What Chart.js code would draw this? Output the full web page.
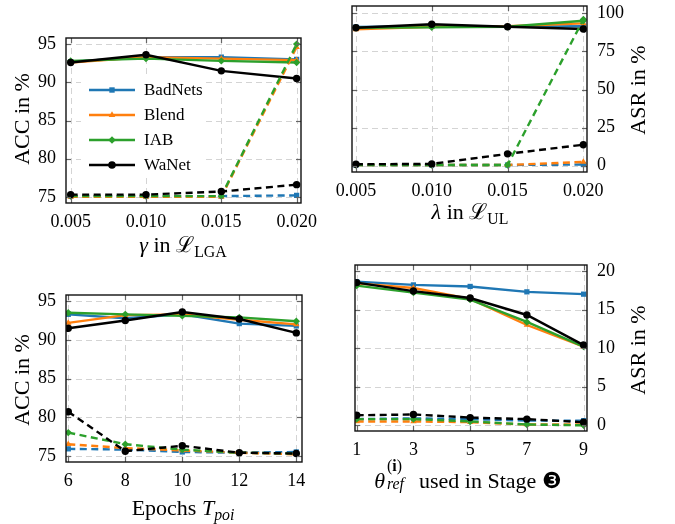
<!DOCTYPE html>
<html>
<head>
<meta charset="utf-8">
<script src="https://cdn.jsdelivr.net/npm/chart.js@4.4.1/dist/chart.umd.min.js"></script>
<style>
body { margin: 0; background: #fff; width: 675px; height: 524px; position: relative; overflow: hidden; font-family: "Liberation Serif", "DejaVu Serif", serif; }
canvas { position: absolute; }
.lbl { position: absolute; font-size: 22px; color: #000; white-space: nowrap; transform: translate(-50%, -50%); line-height: 1; }
.rot { transform: translate(-50%, -50%) rotate(-90deg); }
sub { font-size: 0.72em; vertical-align: -0.3em; }
</style>
</head>
<body>
<canvas id="c1" width="345" height="262" style="left:0;top:0"></canvas>
<canvas id="c2" width="370" height="282" style="left:305px;top:-20px"></canvas>
<canvas id="c3" width="345" height="262" style="left:0;top:262px"></canvas>
<canvas id="c4" width="370" height="282" style="left:305px;top:242px"></canvas>

<div class="lbl" style="left:183px;top:247px"><i>γ</i> in ℒ<sub>LGA</sub></div>
<div class="lbl rot" style="left:22px;top:119px">ACC in %</div>
<div class="lbl" style="left:470px;top:214px"><i>λ</i> in ℒ<sub>UL</sub></div>
<div class="lbl rot" style="left:638px;top:90px">ASR in %</div>
<div class="lbl" style="left:183px;top:510px">Epochs <i>T<sub>poi</sub></i></div>
<div class="lbl rot" style="left:22px;top:380px">ACC in %</div>
<div class="lbl" style="left:468px;top:479px"><i>θ</i><span style="position:relative;display:inline-block;width:1.3em;height:1em"><span style="position:absolute;left:2px;top:-0.5em;font-size:0.72em">(<b>i</b>)</span><span style="position:absolute;left:2px;top:0.6em;font-size:0.72em;font-style:italic">ref</span></span> used in Stage ❸</div>
<div class="lbl rot" style="left:638px;top:350px">ASR in %</div>

<script>
const seriesNames = ['BadNets', 'Blend', 'IAB', 'WaNet'];
const seriesColors = ['#1f77b4', '#ff7f0e', '#2ca02c', '#000000'];
const seriesMarkers = ['rect', 'triangle', 'rectRot', 'circle'];

// top left: gamma in L_LGA
const gammaValues = [0.005, 0.010, 0.015, 0.020];
const gammaAcc = [
    [92.7, 93.3, 93.3, 93.0],
    [92.6, 93.3, 93.1, 92.9],
    [92.8, 93.1, 92.8, 92.6],
    [92.6, 93.6, 91.5, 90.5]
];
const gammaAsr = [
    [75.1, 75.1, 75.1, 75.2],
    [75.0, 75.0, 75.0, 94.6],
    [75.1, 75.1, 75.1, 95.0],
    [75.3, 75.3, 75.7, 76.6]
];

// top right: lambda in L_UL
const lambdaValues = [0.005, 0.010, 0.015, 0.020];
const lambdaAcc = [
    [91.0, 91.5, 91.2, 91.5],
    [89.5, 91.2, 91.5, 93.4],
    [90.5, 90.8, 91.2, 95.1],
    [90.5, 92.8, 91.2, 89.7]
];
const lambdaAsr = [
    [0.5, 0.5, 0.5, 0.8],
    [0.5, 0.5, 0.5, 2.5],
    [0.5, 0.5, 0.5, 96.0],
    [1.0, 1.2, 7.8, 13.8]
];

// bottom left: epochs T_poi
const epochValues = [6, 8, 10, 12, 14];
const epochAcc = [
    [93.3, 92.8, 93.3, 92.1, 91.8],
    [92.2, 93.2, 93.3, 92.6, 92.0],
    [93.5, 93.3, 93.1, 92.9, 92.4],
    [91.5, 92.5, 93.6, 92.7, 90.9]
];
const epochAsr = [
    [75.9, 75.8, 75.5, 75.4, 75.5],
    [76.5, 76.0, 75.7, 75.4, 75.2],
    [78.0, 76.5, 75.8, 75.4, 75.3],
    [80.7, 75.6, 76.3, 75.4, 75.3]
];

// bottom right: reference models used in stage 3
const refValues = [1, 3, 5, 7, 9];
const refAcc = [
    [18.6, 18.2, 18.0, 17.3, 17.0],
    [18.4, 17.8, 16.4, 13.0, 10.2],
    [18.1, 17.2, 16.3, 13.4, 10.2],
    [18.5, 17.4, 16.5, 14.3, 10.4]
];
const refAsr = [
    [0.8, 0.9, 0.8, 0.6, 0.6],
    [0.5, 0.5, 0.4, 0.1, 0.1],
    [0.8, 0.8, 0.5, 0.1, 0.0],
    [1.3, 1.4, 1.0, 0.8, 0.4]
];

const accTicks = [75, 80, 85, 90, 95];
const asrTicksBig = [0, 25, 50, 75, 100];
const asrTicksSmall = [0, 5, 10, 15, 20];

const tickFont = { family: 'Liberation Serif', size: 18 };

function line(ctx, x1, y1, x2, y2) {
    ctx.beginPath();
    ctx.moveTo(x1, y1);
    ctx.lineTo(x2, y2);
    ctx.stroke();
}

// dashed grid, inward ticks and black frame
const framePlugin = {
    id: 'frame',
    beforeDatasetsDraw(chart) {
        const { ctx, chartArea: a, scales } = chart;
        ctx.save();
        ctx.strokeStyle = '#d4d4d4';
        ctx.lineWidth = 1;
        ctx.setLineDash([6, 4]);
        scales.x.ticks.forEach(t => {
            const px = Math.round(scales.x.getPixelForValue(t.value)) + 0.5;
            line(ctx, px, a.top, px, a.bottom);
        });
        scales.y.ticks.forEach(t => {
            const py = Math.round(scales.y.getPixelForValue(t.value)) + 0.5;
            line(ctx, a.left, py, a.right, py);
        });
        ctx.restore();
    },
    afterDatasetsDraw(chart) {
        const { ctx, chartArea: a, scales } = chart;
        ctx.save();
        ctx.strokeStyle = '#666';
        ctx.lineWidth = 1.2;
        const len = 5;
        scales.x.ticks.forEach(t => {
            const px = Math.round(scales.x.getPixelForValue(t.value)) + 0.5;
            line(ctx, px, a.bottom, px, a.bottom - len);
            line(ctx, px, a.top, px, a.top + len);
        });
        scales.y.ticks.forEach(t => {
            const py = Math.round(scales.y.getPixelForValue(t.value)) + 0.5;
            line(ctx, a.left, py, a.left + len, py);
            line(ctx, a.right, py, a.right - len, py);
        });
        ctx.strokeStyle = '#111';
        ctx.lineWidth = 1.4;
        ctx.strokeRect(a.left, a.top, a.right - a.left, a.bottom - a.top);
        ctx.restore();
    }
};

// legend drawn inside the plot area of the first chart
const legendPlugin = {
    id: 'insideLegend',
    afterDraw(chart) {
        const { ctx, chartArea: a } = chart;
        ctx.save();
        ctx.fillStyle = '#fff';
        ctx.fillRect(a.left + 15, a.top + 39, 125, 100);
        ctx.font = '17px "Liberation Serif"';
        ctx.textBaseline = 'middle';
        seriesNames.forEach((name, i) => {
            const y = a.top + 52 + i * 25;
            const x0 = a.left + 23;
            ctx.strokeStyle = seriesColors[i];
            ctx.lineWidth = 2.4;
            line(ctx, x0, y, x0 + 46, y);
            ctx.fillStyle = seriesColors[i];
            Chart.helpers.drawPoint(ctx, {
                pointStyle: seriesMarkers[i], radius: 3.8, borderWidth: 0, rotation: 0
            }, x0 + 23, y);
            ctx.fillStyle = '#000';
            ctx.fillText(name, x0 + 55, y + 1);
        });
        ctx.restore();
    }
};

function makeChart(id, o) {
    const datasets = [];
    seriesNames.forEach((name, i) => {
        datasets.push({
            label: name,
            data: o.xs.map((x, j) => ({ x: x, y: o.solid[i][j] })),
            borderColor: seriesColors[i],
            backgroundColor: seriesColors[i],
            borderWidth: 2.4,
            pointStyle: seriesMarkers[i],
            pointRadius: 3.7,
            pointBorderWidth: 0,
            order: 8 - i
        });
        datasets.push({
            label: name + ' (dashed)',
            data: o.xs.map((x, j) => ({ x: x, y: o.dashed[i][j] })),
            borderColor: seriesColors[i],
            backgroundColor: seriesColors[i],
            borderWidth: 2.4,
            borderDash: [7, 4.5],
            pointStyle: seriesMarkers[i],
            pointRadius: 3.7,
            pointBorderWidth: 0,
            order: 4 - i
        });
    });
    const plugins = [framePlugin];
    if (o.legend) plugins.push(legendPlugin);
    return new Chart(document.getElementById(id), {
        type: 'line',
        data: { datasets: datasets },
        plugins: plugins,
        options: {
            responsive: false,
            animation: false,
            layout: { padding: o.padding },
            plugins: { legend: { display: false }, tooltip: { enabled: false } },
            elements: { line: { tension: 0 } },
            scales: {
                x: {
                    type: 'linear',
                    min: o.xMin,
                    max: o.xMax,
                    grid: { display: false, drawTicks: false },
                    border: { display: false },
                    afterBuildTicks: s => { s.ticks = o.xs.map(v => ({ value: v })); },
                    afterFit: s => { s.height = o.xHeight; },
                    ticks: {
                        color: '#000',
                        font: tickFont,
                        padding: 8,
                        autoSkip: false,
                        maxRotation: 0,
                        callback: o.xFormat
                    }
                },
                y: {
                    type: 'linear',
                    position: o.yPos,
                    min: o.yMin,
                    max: o.yMax,
                    grid: { display: false, drawTicks: false },
                    border: { display: false },
                    afterBuildTicks: s => { s.ticks = o.yTicks.map(v => ({ value: v })); },
                    afterFit: s => { s.width = o.yWidth; },
                    ticks: {
                        color: '#000',
                        font: tickFont,
                        padding: 10,
                        callback: v => String(v)
                    }
                }
            }
        }
    });
}

makeChart('c1', {
    xs: gammaValues, solid: gammaAcc, dashed: gammaAsr,
    xMin: 0.00469, xMax: 0.02029, yMin: 74.2, yMax: 95.8, yTicks: accTicks,
    yPos: 'left', yWidth: 66, xHeight: 59,
    padding: { top: 38, right: 44, left: 0, bottom: 0 },
    xFormat: v => Number(v).toFixed(3), legend: true
});
makeChart('c2', {
    xs: lambdaValues, solid: lambdaAcc, dashed: lambdaAsr,
    xMin: 0.00474, xMax: 0.02024, yMin: -4.1, yMax: 104.8, yTicks: asrTicksBig,
    yPos: 'right', yWidth: 88, xHeight: 90,
    padding: { top: 26, right: 0, left: 47, bottom: 0 },
    xFormat: v => Number(v).toFixed(3)
});
makeChart('c3', {
    xs: epochValues, solid: epochAcc, dashed: epochAsr,
    xMin: 5.92, xMax: 14.2, yMin: 74.2, yMax: 95.8, yTicks: accTicks,
    yPos: 'left', yWidth: 66, xHeight: 62,
    padding: { top: 33, right: 43, left: 0, bottom: 0 },
    xFormat: v => String(v)
});
makeChart('c4', {
    xs: refValues, solid: refAcc, dashed: refAsr,
    xMin: 0.94, xMax: 9.12, yMin: -0.74, yMax: 20.78, yTicks: asrTicksSmall,
    yPos: 'right', yWidth: 88, xHeight: 93,
    padding: { top: 23, right: 0, left: 50, bottom: 0 },
    xFormat: v => String(v)
});
</script>
</body>
</html>
